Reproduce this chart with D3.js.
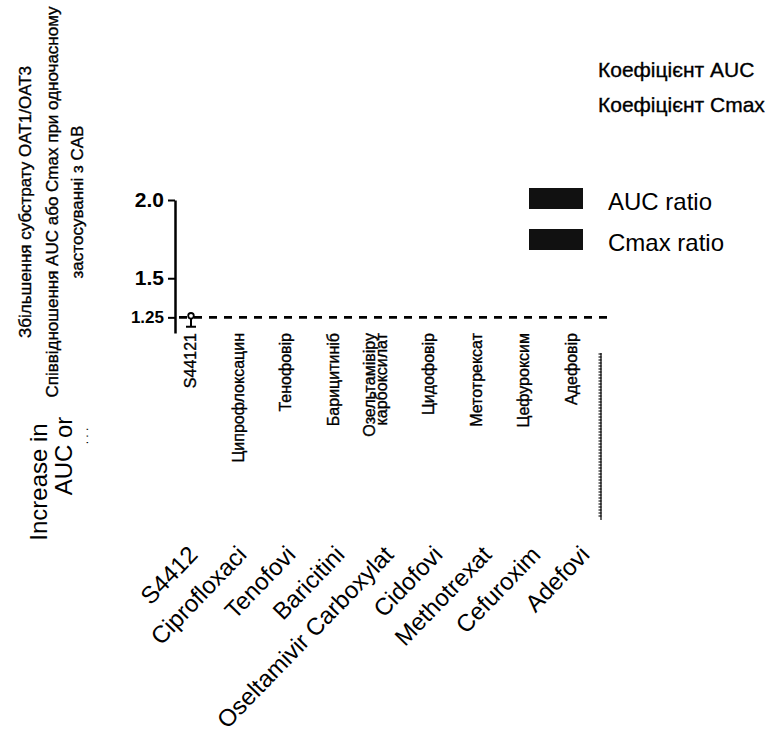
<!DOCTYPE html>
<html>
<head>
<meta charset="utf-8">
<script src="https://cdn.jsdelivr.net/npm/d3@7/dist/d3.min.js"></script>
<style>
  body { margin: 0; background: #fff; }
  svg { display: block; font-family: "Liberation Sans", Arial, sans-serif; }
  .scan { stroke: #000; stroke-width: 0.35px; }
</style>
</head>
<body>
<div id="chart"></div>
<script>
// categories (ukrainian overlay labels and the english originals, cut as in the scan)
var drugsUk = ["S44121", "Ципрофлоксацин", "Тенофовір", "Барицитиніб", "Озельтамівіру|карбоксилат",
               "Цидофовір", "Метотрексат", "Цефуроксим", "Адефовір"];
var drugsEn = ["S4412", "Ciprofloxaci", "Tenofovi", "Baricitini", "Oseltamivir Carboxylat",
               "Cidofovi", "Methotrexat", "Cefuroxim", "Adefovi"];

// only S44121 has a visible marker
var aucRatio = [1.26, null, null, null, null, null, null, null, null];
var aucLow   = [1.19, null, null, null, null, null, null, null, null];

var yTicks = [1.25, 1.5, 2.0];
var yTickLabels = ["1.25", "1.5", "2.0"];
var refLine = 1.25;

var legendUk = ["Коефіцієнт AUC", "Коефіцієнт Cmax"];
var legendEn = ["AUC ratio", "Cmax ratio"];
var yTitleUk = ["Збільшення субстрату OAT1/OAT3",
                "Співвідношення AUC або Cmax при одночасному",
                "застосуванні з CAB"];
var yTitleEn = ["Increase in", "AUC or", ". . ."];

var W = 777, H = 740;
var svg = d3.select("#chart").append("svg").attr("width", W).attr("height", H);

var axisX = 175, lineEnd = 612;
var y = d3.scaleLinear().domain([1.15, 2.0]).range([333, 200]);
var x = d3.scalePoint().domain(drugsUk).range([190, 571]);
// the english labels underneath sit on a slightly wider spacing
var xEn = d3.scalePoint().domain(drugsEn).range([199, 591]);

// y axis
var yAxis = d3.axisLeft(y)
  .tickValues(yTicks)
  .tickSize(7)
  .tickSizeOuter(0)
  .tickPadding(4)
  .tickFormat(function (d, i) { return yTickLabels[i]; });

var ga = svg.append("g").attr("transform", "translate(" + axisX + ",0)").call(yAxis);
ga.select(".domain").attr("stroke", "#000").attr("stroke-width", 2.5);
ga.selectAll(".tick line").attr("stroke", "#000").attr("stroke-width", 2);
ga.selectAll(".tick text")
  .attr("fill", "#000")
  .style("font-weight", "bold")
  .style("font-size", function (d) { return d === 1.25 ? "17px" : "21px"; });

// reference line
svg.append("line")
  .attr("x1", axisX + 4).attr("x2", lineEnd)
  .attr("y1", y(refLine)).attr("y2", y(refLine))
  .attr("stroke", "#000").attr("stroke-width", 2.6)
  .attr("stroke-dasharray", "8,7");

// S44121 point + whisker
drugsUk.forEach(function (d, i) {
  if (aucRatio[i] == null) return;
  var cx = x(d) + 1;
  svg.append("line")
    .attr("x1", cx).attr("x2", cx)
    .attr("y1", y(aucRatio[i])).attr("y2", y(aucLow[i]))
    .attr("stroke", "#000").attr("stroke-width", 2);
  svg.append("line")
    .attr("x1", cx - 5).attr("x2", cx + 5)
    .attr("y1", y(aucLow[i])).attr("y2", y(aucLow[i]))
    .attr("stroke", "#000").attr("stroke-width", 2);
  svg.append("circle")
    .attr("cx", cx).attr("cy", y(aucRatio[i])).attr("r", 2.8)
    .attr("fill", "#fff").attr("stroke", "#000").attr("stroke-width", 1.8);
});

// ukrainian category labels, vertical
drugsUk.forEach(function (d) {
  var parts = d.split("|");
  parts.forEach(function (p, j) {
    var off = parts.length > 1 ? (j === 0 ? -12 : 0) : 0;
    svg.append("text")
      .attr("class", "scan")
      .attr("transform", "translate(" + (x(d) + 6 + off) + ",333) rotate(-90)")
      .attr("text-anchor", "end")
      .style("font-size", "16px")
      .attr("fill", "#000")
      .text(p);
  });
});

// odd scanned strip right of Adefovir
var stripX = x(drugsUk[drugsUk.length - 1]) + 29;
svg.append("line")
  .attr("x1", stripX).attr("x2", stripX).attr("y1", 353).attr("y2", 518)
  .attr("stroke", "#777").attr("stroke-width", 3).attr("stroke-dasharray", "2,1");
svg.append("line")
  .attr("x1", stripX + 1).attr("x2", stripX + 1).attr("y1", 353).attr("y2", 520)
  .attr("stroke", "#000").attr("stroke-width", 1.2);

// english category labels, rotated
drugsEn.forEach(function (d) {
  svg.append("text")
    .attr("transform", "translate(" + xEn(d) + ",556) rotate(-46)")
    .attr("text-anchor", "end")
    .style("font-size", "24px")
    .attr("fill", "#000")
    .text(d);
});

// y titles (ukrainian overlay)
var ukX = [31, 58, 83];
yTitleUk.forEach(function (t, i) {
  svg.append("text")
    .attr("class", "scan")
    .attr("transform", "translate(" + ukX[i] + ",202) rotate(-90)")
    .attr("text-anchor", "middle")
    .style("font-size", "17px")
    .attr("fill", "#000")
    .text(t);
});

// y titles (english original, partially hidden)
var enPos = [[47, 482, 24], [72, 456, 24], [88, 436, 12]];
yTitleEn.forEach(function (t, i) {
  svg.append("text")
    .attr("transform", "translate(" + enPos[i][0] + "," + enPos[i][1] + ") rotate(-90)")
    .attr("text-anchor", "middle")
    .style("font-size", enPos[i][2] + "px")
    .attr("fill", "#000")
    .text(t);
});

// legend, ukrainian
legendUk.forEach(function (t, i) {
  svg.append("text")
    .attr("class", "scan")
    .attr("x", 598).attr("y", 77 + i * 35)
    .style("font-size", "21px")
    .attr("fill", "#000")
    .text(t);
});

// legend, english with swatches
legendEn.forEach(function (t, i) {
  var yy = 188 + i * 41;
  svg.append("rect")
    .attr("x", 529).attr("y", yy).attr("width", 54).attr("height", 21)
    .attr("fill", "#111");
  svg.append("text")
    .attr("x", 608).attr("y", yy + 22)
    .style("font-size", "24px")
    .attr("fill", "#000")
    .text(t);
});
</script>
</body>
</html>
